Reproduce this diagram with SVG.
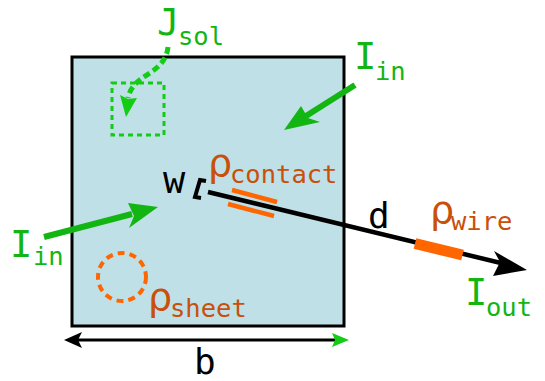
<svg xmlns="http://www.w3.org/2000/svg" width="545" height="381" viewBox="0 0 545 381">
<defs>
<style>
text{font-family:"DejaVu Sans Mono","Liberation Mono",monospace}
.g{fill:#13b513}
.o{fill:#c8500a}
.k{fill:#000}
.big{font-size:37px}
.sub{font-size:25.5px}
.rho{font-family:"DejaVu Sans","Liberation Sans",sans-serif;font-size:38px}
</style>
</defs>
<rect x="72" y="57" width="272" height="269" fill="#bfe0e6" stroke="#000" stroke-width="3"/>
<g id="connectors">
<line x1="78" y1="340" x2="336" y2="340" stroke="#000" stroke-width="3"/>
<path d="M64,340 L82,332 L78,340 L82,348 Z" fill="#000"/>
<path d="M349,340 L332,333 L335,340 L332,347 Z" fill="#13cc13"/>
<line x1="208" y1="192" x2="505" y2="264" stroke="#000" stroke-width="4.5"/>
<path d="M527,270 L494,251 L500,262 L493,276 Z" fill="#000"/>
<line x1="415" y1="243.5" x2="462.5" y2="255" stroke="#ff6600" stroke-width="11"/>
<line x1="232" y1="190" x2="277" y2="202" stroke="#ff6600" stroke-width="4.5"/>
<line x1="228" y1="204" x2="274" y2="216" stroke="#ff6600" stroke-width="4.5"/>
<path d="M206,181 L200,180 L195,197 L201,198" fill="none" stroke="#000" stroke-width="4"/>
<line x1="44" y1="237" x2="132" y2="214" stroke="#13b513" stroke-width="6"/>
<path d="M158,207 L128,203 L134,216 L129,228 Z" fill="#13b513"/>
<line x1="355" y1="85" x2="306" y2="116" stroke="#13b513" stroke-width="6"/>
<path d="M284,130 L301,106 L308,118 L320,122 Z" fill="#13b513"/>
<path d="M168,47 C166,66 150,72 141,79 C133,85 129,92 128,98" fill="none" stroke="#13cc13" stroke-width="5" stroke-dasharray="7,4"/>
<path d="M126,117 L120,95 L128,99 L137,98 Z" fill="#13cc13"/>
</g>
<g id="sol-region"><rect x="112" y="83" width="52" height="52" fill="none" stroke="#13cc13" stroke-width="3" stroke-dasharray="5,4"/></g>
<g id="sheet-region"><circle cx="122" cy="277" r="24" fill="none" stroke="#ff6600" stroke-width="4" stroke-dasharray="7,5"/></g>
<g id="labels">
<text x="157" y="35" class="g big">J</text><text x="178" y="45" class="g sub">sol</text>
<text x="354" y="69" class="g big">I</text><text x="375" y="80" class="g sub">in</text>
<text x="10" y="257" class="g big">I</text><text x="33" y="265" class="g sub">in</text>
<text x="465" y="305" class="g big">I</text><text x="486" y="316" class="g sub">out</text>
<text x="163" y="193" class="k big">w</text>
<text x="368" y="228" class="k" style="font-size:36px">d</text>
<text x="194" y="374" class="k" style="font-size:36px">b</text>
<text x="208" y="176" class="o rho">ρ</text><text x="230" y="183" class="o sub">contact</text>
<text x="430" y="223" class="o rho">ρ</text><text x="451" y="230" class="o sub">wire</text>
<text x="148" y="310" class="o rho">ρ</text><text x="170" y="317" class="o sub">sheet</text>
</g>
</svg>
